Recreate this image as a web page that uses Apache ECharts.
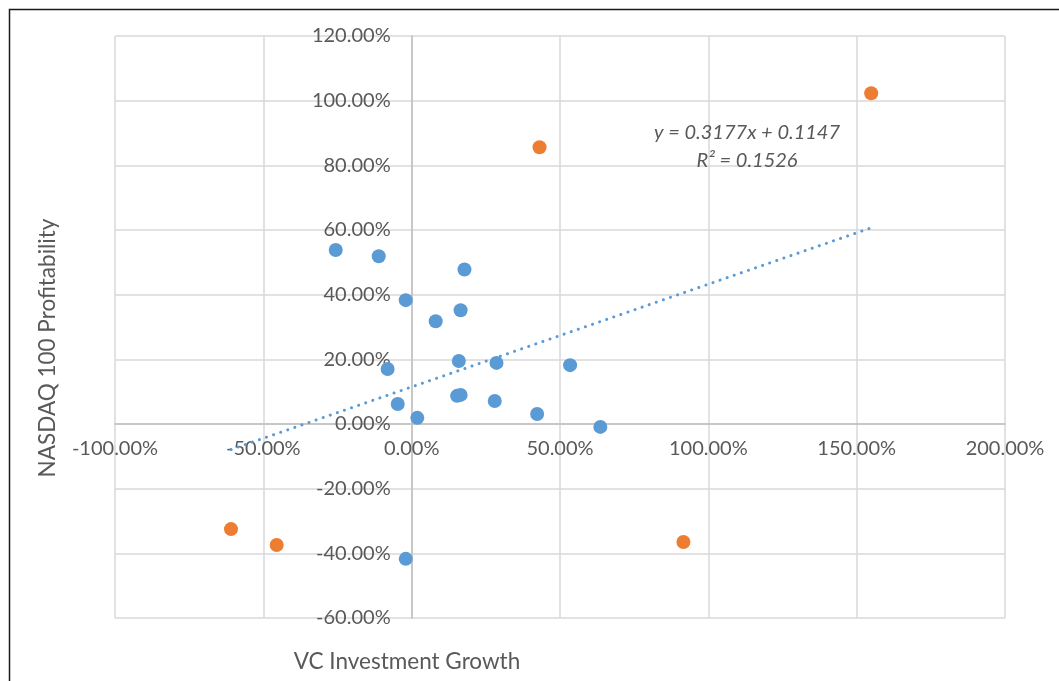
<!DOCTYPE html>
<html>
<head>
<meta charset="utf-8">
<script src="https://cdn.jsdelivr.net/npm/echarts@6/dist/echarts.min.js"></script>
<style>
html,body{margin:0;padding:0;background:#fff;}
#chart{width:1059px;height:681px;}
</style>
</head>
<body>
<div id="chart"></div>
<script>
// VC investment growth (x) vs NASDAQ 100 profitability (y), as fractions
const blueX = [-0.256, -0.111, 0.178, -0.020, 0.081, 0.165, 0.159, 0.286, 0.534, -0.081, 0.153, 0.165, 0.280, -0.047, 0.019, 0.423, 0.636, -0.020];
const blueY = [0.538, 0.519, 0.478, 0.383, 0.318, 0.352, 0.195, 0.189, 0.182, 0.170, 0.087, 0.090, 0.071, 0.062, 0.019, 0.031, -0.009, -0.417];
const orangeX = [1.549, 0.431, -0.609, -0.455, 0.916];
const orangeY = [1.023, 0.856, -0.325, -0.374, -0.365];
const trendSlope = 0.3177;
const trendIntercept = 0.1147;
const trendR2 = 0.1526;
const xTicks = { min: -1, max: 2, interval: 0.5 };
const yTicks = { min: -0.6, max: 1.2, interval: 0.2 };

const allX = blueX.concat(orangeX);
const tMinX = Math.min.apply(null, allX);
const tMaxX = Math.max.apply(null, allX);
const trend = [[tMinX, trendSlope * tMinX + trendIntercept], [tMaxX, trendSlope * tMaxX + trendIntercept]];

const W = 1059, H = 681;
const G = { left: 115, right: 54, top: 36, bottom: 63 };
const gw = W - G.left - G.right, gh = H - G.top - G.bottom;
// place axes where the other axis is zero
const yAxisOffset = -((0 - xTicks.min) / (xTicks.max - xTicks.min) * gw);
const xAxisOffset = -((0 - yTicks.min) / (yTicks.max - yTicks.min) * gh);

const FONT = 'Lato';
const GREY = '#595959';
const pct = v => (Math.round(v * 10000) / 100).toFixed(2) + '%';

const chart = echarts.init(document.getElementById('chart'), null, { renderer: 'canvas' });
chart.setOption({
  animation: false,
  backgroundColor: '#fff',
  grid: { left: G.left, right: G.right, top: G.top, bottom: G.bottom, containLabel: false },
  xAxis: {
    type: 'value', min: xTicks.min, max: xTicks.max, interval: xTicks.interval,
    position: 'bottom', offset: xAxisOffset,
    axisLine: { onZero: false, lineStyle: { color: '#bfbfbf', width: 1.5 } },
    axisTick: { show: false },
    axisLabel: { formatter: pct, color: GREY, fontFamily: FONT, fontSize: 20, margin: 15, showMinLabel: true, showMaxLabel: true, hideOverlap: false },
    splitLine: { show: true, lineStyle: { color: '#d9d9d9', width: 1.5 } }
  },
  yAxis: {
    type: 'value', min: yTicks.min, max: yTicks.max, interval: yTicks.interval,
    position: 'left', offset: yAxisOffset,
    axisLine: { onZero: false, lineStyle: { color: '#bfbfbf', width: 1.5 } },
    axisTick: { show: false },
    axisLabel: { formatter: pct, color: GREY, fontFamily: FONT, fontSize: 20, margin: 21, showMinLabel: true, showMaxLabel: true, hideOverlap: false },
    splitLine: { show: true, lineStyle: { color: '#d9d9d9', width: 1.5 } }
  },
  series: [
    {
      type: 'line', data: trend, symbol: 'none', z: 3,
      lineStyle: { color: '#5b9bd5', width: 3, type: [0.1, 7.4], cap: 'round' }
    },
    {
      type: 'scatter', data: blueX.map((x, i) => [x, blueY[i]]), symbolSize: 14, z: 4,
      itemStyle: { color: '#5b9bd5', opacity: 1 }
    },
    {
      type: 'scatter', data: orangeX.map((x, i) => [x, orangeY[i]]), symbolSize: 14, z: 4,
      itemStyle: { color: '#ed7d31', opacity: 1 }
    }
  ],
  graphic: [
    { type: 'rect', z: 100, shape: { x: 9.5, y: 9.5, width: 1200, height: 800 }, style: { fill: null, stroke: '#1a1a1a', lineWidth: 1.5 }, silent: true },
    { type: 'text', z: 100, x: 747, y: 133, style: { text: 'y = ' + trendSlope + 'x + ' + trendIntercept, fill: GREY, font: 'italic 20px ' + FONT, align: 'center', verticalAlign: 'middle' } },
    { type: 'text', z: 100, x: 747, y: 161, style: { text: 'R² = ' + trendR2, fill: GREY, font: 'italic 20px ' + FONT, align: 'center', verticalAlign: 'middle' } },
    { type: 'text', z: 100, x: 48, y: 348, rotation: Math.PI / 2, style: { text: 'NASDAQ 100 Profitability', fill: GREY, font: '22.5px ' + FONT, align: 'center', verticalAlign: 'middle' } },
    { type: 'text', z: 100, x: 407, y: 662, style: { text: 'VC Investment Growth', fill: GREY, font: '22.5px ' + FONT, align: 'center', verticalAlign: 'middle' } }
  ]
});
</script>
</body>
</html>
